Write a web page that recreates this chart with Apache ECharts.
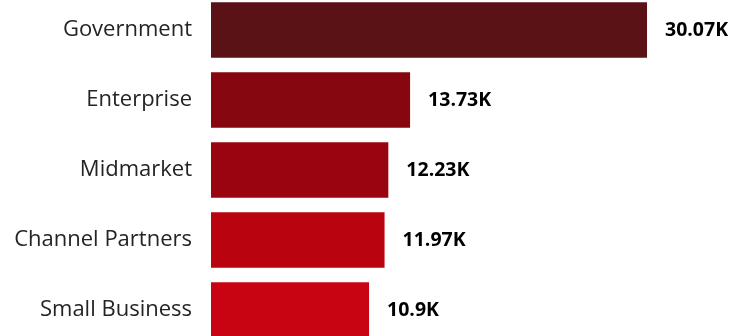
<!DOCTYPE html>
<html>
<head>
<meta charset="utf-8">
<script src="https://cdn.jsdelivr.net/npm/echarts@6/dist/echarts.min.js"></script>
<style>
  html, body { margin: 0; padding: 0; background: #ffffff; overflow: hidden; }
  /* the plot extends slightly past the top and bottom of the window */
  #chart { width: 729px; height: 350px; margin-top: -5px; }
</style>
</head>
<body>
<div id="chart"></div>
<script>
// Segments, ordered top to bottom
const categories = ['Government', 'Enterprise', 'Midmarket', 'Channel Partners', 'Small Business'];
// Sales in thousands
const values = [30.07, 13.73, 12.23, 11.97, 10.9];
const valueLabels = ['30.07K', '13.73K', '12.23K', '11.97K', '10.9K'];
const barColors = ['#5b1217', '#86070f', '#9a0411', '#b9040f', '#c80412'];

const chart = echarts.init(document.getElementById('chart'), null, { renderer: 'canvas' });

chart.setOption({
  animation: false,
  grid: { left: 211, right: 10.5, top: 0, bottom: 0, containLabel: false },
  xAxis: {
    type: 'value',
    min: 0,
    max: 35,
    show: false
  },
  yAxis: {
    type: 'category',
    data: categories,
    inverse: true,
    axisLine: { show: false },
    axisTick: { show: false },
    splitLine: { show: false },
    axisLabel: {
      margin: 19,
      fontFamily: 'Open Sans',
      fontSize: 22,
      color: '#252423',
      padding: [4, 0, 0, 0]
    }
  },
  series: [{
    type: 'bar',
    barCategoryGap: '21%',
    data: values.map((v, i) => ({ value: v, itemStyle: { color: barColors[i] } })),
    label: {
      show: true,
      position: 'right',
      distance: 18,
      fontFamily: 'Open Sans',
      fontWeight: 'bold',
      fontSize: 19.5,
      color: '#000000',
      padding: [3, 0, 0, 0],
      formatter: p => valueLabels[p.dataIndex]
    }
  }]
});
</script>
</body>
</html>
